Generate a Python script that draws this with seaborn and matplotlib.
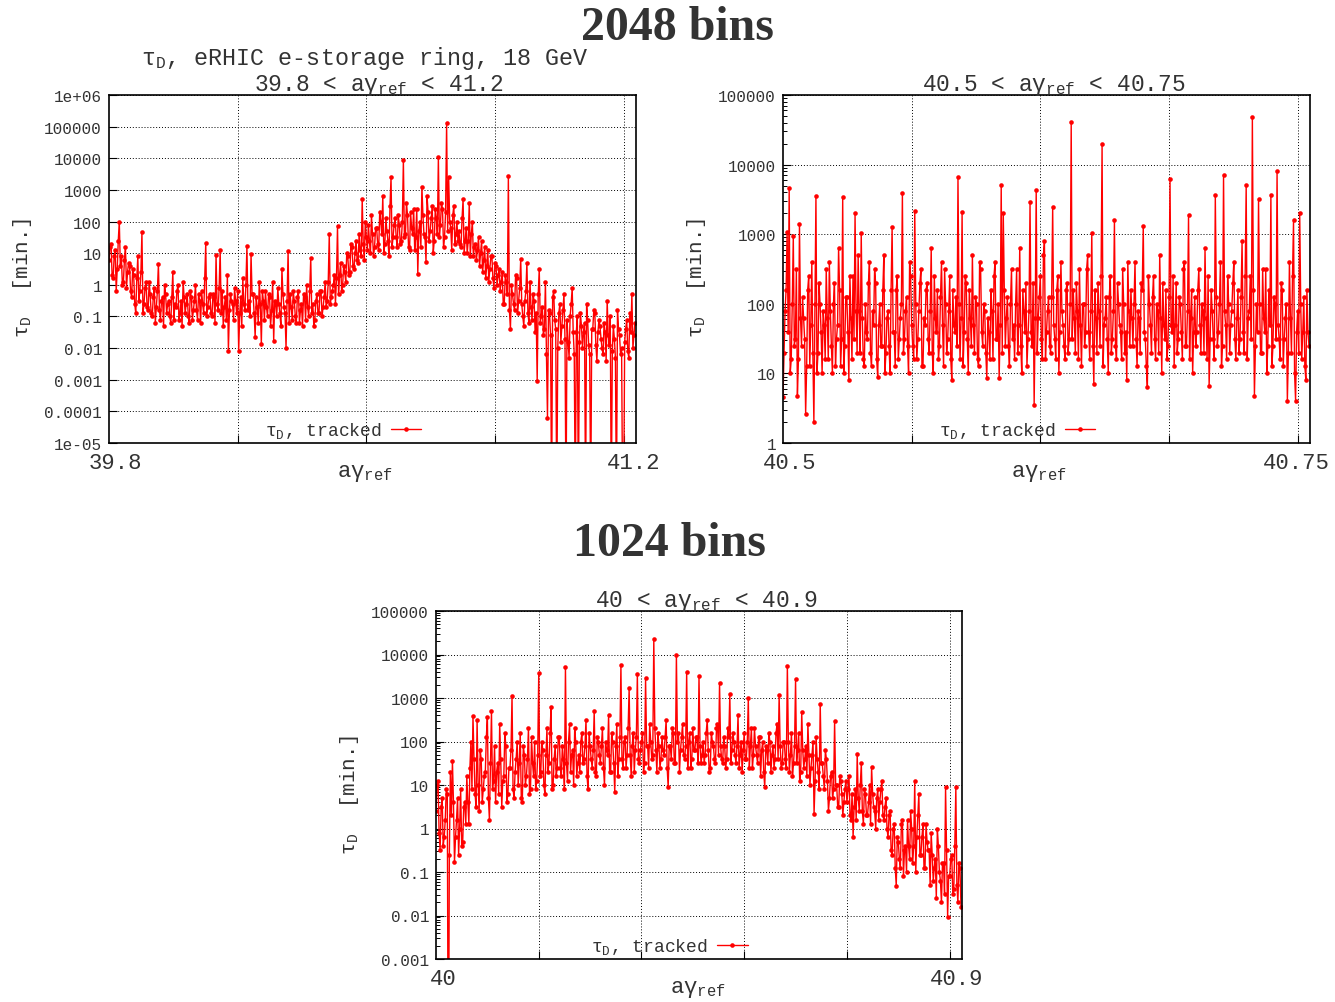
import numpy as np
import pandas as pd
import matplotlib
matplotlib.use("Agg")
import matplotlib.pyplot as plt
from matplotlib.ticker import FixedLocator, NullLocator, LogLocator, NullFormatter
import seaborn as sns

sns.set_style("white")
plt.rcParams["font.family"] = ["Liberation Mono", "DejaVu Sans"]
plt.rcParams["mathtext.fontset"] = "custom"
plt.rcParams["mathtext.rm"] = "Liberation Mono"
plt.rcParams["mathtext.it"] = "Liberation Mono"
plt.rcParams["mathtext.bf"] = "Liberation Mono:bold"

TEXT = "#333333"
RED = "#ff0000"

# log10(tau_D / min), 2048 bins over 39.8 < a*gamma < 41.2
# even: bins 0, 8, 16, ...   odd: bins 4, 12, 20, ...
wide_log_tau_even = [
    0.8, 1.3, 0.2, 1.1, 0.5, 2.0, 0.9, 0.1, 1.2, 0.4,
    0.6, -0.4, 0.3, -0.9, 0.9, -0.2, 1.67, -0.6, 0.1, -0.8,
    -0.3, -1.0, -0.1, -0.7, 0.66, -1.1, -0.4, 0.0, -0.9, -0.5,
    -1.2, 0.4, -0.6, -0.2, -1.1, -0.5, 0.1, -0.9, -0.3, -1.2,
    -0.4, -0.8, 0.0, -1.1, -0.5, -0.2, -0.9, 1.32, -0.7, -0.3,
    -1.0, -0.4, 0.95, -0.8, 1.1, -0.2, -0.7, -1.1, -2.1, -0.3,
    -0.6, -0.1, -0.9, -2.1, -0.4, 0.2, -0.8, 1.22, -0.5, 0.97,
    -0.3, -1.65, -0.7, 0.1, -1.87, -0.5, -0.2, -1.0, -0.4, -0.8,
    -1.77, -0.6, -0.1, -0.9, 0.5, -0.7, -2.0, 1.07, -0.3, -1.1,
    -0.5, -1.2, -0.2, -0.8, -1.3, -0.4, 0.0, -1.0, 0.85, -0.6,
    -1.1, -0.3, -0.9, -0.2, -0.7, 0.1, -0.5, 1.6, -0.4, 0.0,
    -0.6, 1.85, 0.3, -0.2, 0.6, 0.1, 0.9, 0.4, 1.2, 0.5,
    1.4, 0.7, 1.1, 2.7, 0.8, 1.5, 1.9, 1.0, 1.6, 1.2,
    1.8, 1.1, 2.0, 2.8, 1.3, 1.7, 0.9, 3.4, 1.5, 2.1,
    1.2, 1.9, 1.4, 3.94, 1.6, 2.2, 1.1, 1.8, 2.4, 1.5,
    0.35, 2.0, 3.1, 1.6, 0.72, 2.3, 1.7, 2.5, 1.4, 2.1,
    4.04, 1.9, 2.4, 1.5, 5.11, 3.4, 1.8, 2.2, 1.3, 2.0,
    1.7, 1.2, 2.7, 1.4, 1.0, 2.6, 1.6, 0.9, 1.3, 1.1,
    0.6, 1.4, 0.8, 0.2, 1.1, 0.5, 0.9, -0.1, 0.6, 0.3,
    -0.2, 0.4, -0.6, 0.1, 3.44, -1.4, -0.3, -0.8, 0.2, -0.5,
    0.82, -1.0, -0.5, 0.7, -1.2, -0.7, -0.3, -1.5, -3.04, 0.5,
    -1.0, -1.6, 0.1, -4.2, -0.9, -7.0, -0.2, -1.4, -2.0, -0.6,
    -1.3, -0.3, -7.0, -1.8, -1.0, -0.1, -2.2, -1.5, -7.0, -0.9,
    -2.0, -1.2, -0.6, -1.9, -7.0, -1.4, -0.9, -2.4, -1.1, -1.7,
    -2.2, -1.5, -0.5, -1.9, -7.0, -1.3, -2.3, -0.8, -1.6, -2.0,
    -7.0, -1.4, -2.1, -0.9, -0.3, -1.6,
]
wide_log_tau_odd = [
    1.2, 0.3, 0.9, -0.2, 1.4, 0.6, 0.0, 0.8, -0.1, 0.7,
    -0.2, 0.5, -0.6, 0.2, -0.5, 0.4, -0.9, -0.1, -0.7, 0.1,
    -0.9, -0.4, -1.2, -0.2, -0.8, -0.5, -1.3, -0.3, -0.6, -1.0,
    -0.4, -1.1, -0.7, 0.0, -0.9, -1.3, -0.4, -0.6, -1.0, -0.2,
    -1.1, -0.5, -0.8, -0.3, -1.2, -0.6, 0.2, -1.0, -0.4, -0.9,
    -0.3, -1.2, -0.6, -0.1, -0.9, -1.3, -0.4, 0.3, -0.8, -0.5,
    -1.1, -0.5, -0.2, -0.9, -1.3, -0.6, 0.0, -0.8, -1.0, -0.3,
    -0.9, -0.4, -1.2, -0.6, -0.2, -1.1, -0.7, -0.3, -1.3, 0.1,
    -0.5, -1.0, -0.6, -1.3, -0.3, -0.9, -0.5, -1.2, -0.7, -0.2,
    -1.0, -0.4, -1.2, -0.6, -0.3, -1.1, -0.7, -0.2, -0.9, -1.3,
    -0.5, -0.9, -0.2, -1.0, -0.4, -0.7, 0.1, -0.6, -0.2, 0.3,
    0.2, -0.3, 0.7, 0.0, 0.4, 1.0, 0.3, 1.3, 0.6, 1.0,
    0.8, 1.6, 0.9, 1.3, 2.0, 1.1, 1.4, 2.2, 0.9, 1.8,
    1.3, 2.3, 1.6, 1.0, 2.1, 1.4, 2.5, 1.2, 1.9, 1.5,
    2.2, 1.3, 2.0, 1.5, 2.6, 1.2, 2.3, 1.6, 1.1, 2.4,
    1.7, 1.2, 2.2, 1.5, 2.8, 1.4, 2.1, 1.0, 2.4, 1.6,
    1.5, 2.6, 1.2, 2.3, 1.7, 2.0, 1.1, 2.5, 1.6, 1.4,
    1.3, 2.1, 1.0, 1.8, 1.4, 0.9, 2.0, 1.2, 0.8, 1.5,
    1.0, 0.4, 1.2, 0.6, 0.1, 0.9, 0.2, 0.7, 0.0, 0.5,
    0.1, -0.6, 0.3, -0.3, -0.8, 0.0, -0.6, 0.3, -0.9, -0.1,
    -0.6, -1.3, -0.2, -0.9, 0.1, -1.1, -0.5, -0.9, -0.3, -1.2,
    -0.7, -1.4, -2.2, -0.8, -1.6, -0.4, -1.1, -7.0, -0.9, -1.8,
    -0.8, -1.7, -1.1, -2.3, -0.6, -1.5, -7.0, -1.0, -1.8, -1.3,
    -1.5, -7.0, -1.1, -2.2, -1.4, -0.8, -1.9, -1.5, -1.3, -2.0,
    -1.2, -2.4, -1.6, -1.0, -2.1, -1.7, -7.0, -1.4, -2.2, -7.0,
    -1.8, -1.1, -2.3, -1.5, -2.0, -1.2,
]

# log10(tau_D / min), 2048 bins over 40.5 < a*gamma < 40.75
narrow_log_tau_even = [
    0.66, 1.9, 3.03, 3.66, 1.2, 2.97, 1.5, 0.68, 3.15, 1.4,
    1.8, 0.42, 2.2, 1.1, 2.6, 0.30, 3.55, 1.3, 2.0, 1.0,
    1.7, 2.5, 1.2, 1.9, 1.0, 2.3, 1.5, 2.8, 1.1, 3.53,
    1.4, 2.1, 0.9, 1.8, 2.4, 3.3, 1.3, 1.9, 3.02, 1.2,
    2.0, 1.5, 2.6, 1.1, 1.7, 2.3, 0.95, 2.0, 1.4, 2.7,
    1.3, 1.9, 1.0, 3.1, 1.6, 2.2, 1.2, 1.8, 3.59, 1.5,
    2.1, 1.0, 2.4, 1.4, 3.33, 1.2, 1.9, 2.5, 1.1, 1.7,
    2.3, 1.3, 2.8, 1.0, 1.8, 2.2, 1.4, 2.6, 1.1, 2.0,
    1.5, 2.4, 0.9, 1.7, 2.1, 3.82, 1.2, 3.32, 1.6, 2.3,
    1.0, 1.8, 2.7, 1.3, 2.0, 1.1, 2.5, 1.4, 1.9, 0.93,
    1.6, 2.2, 1.2, 2.6, 1.5, 0.93, 3.71, 3.3, 1.4, 2.1,
    1.1, 2.5, 1.7, 2.0, 1.3, 2.8, 1.0, 1.9, 2.3, 1.5,
    3.46, 1.4, 0.55, 3.64, 1.8, 2.4, 1.2, 2.9, 1.6, 2.1,
    1.3, 3.39, 1.5, 2.2, 1.0, 2.6, 1.7, 1.2, 2.3, 1.5,
    4.61, 2.2, 1.3, 1.9, 2.5, 1.1, 2.0, 1.6, 2.7, 1.2,
    3.02, 0.85, 1.8, 2.3, 1.4, 4.30, 1.7, 2.1, 1.0, 2.4,
    1.5, 3.2, 1.2, 2.0, 1.6, 2.5, 1.3, 0.9, 1.9, 2.2,
    1.4, 2.6, 1.1, 1.8, 2.3, 3.12, 1.5, 0.8, 2.0, 1.3,
    2.4, 1.2, 1.9, 2.7, 1.0, 1.7, 2.2, 1.4, 3.79, 1.6,
    1.1, 2.3, 1.5, 2.0, 1.2, 2.6, 1.4, 3.28, 1.8, 1.0,
    2.1, 1.6, 2.5, 1.3, 1.9, 2.8, 1.2, 0.82, 2.2, 1.5,
    3.56, 1.4, 2.0, 1.1, 3.85, 1.7, 2.4, 1.3, 1.9, 2.6,
    1.2, 2.2, 1.5, 2.9, 1.3, 3.71, 1.8, 2.4, 4.68, 0.68,
    2.0, 3.5, 1.3, 2.5, 1.6, 1.0, 2.2, 3.56, 1.4, 2.0,
    3.91, 1.5, 2.3, 1.1, 1.8, 0.61, 2.6, 1.3, 3.2, 0.61,
    1.9, 3.3, 1.2, 2.1, 0.9, 1.6,
]
narrow_log_tau_odd = [
    1.3, 2.2, 1.6, 1.0, 2.0, 1.4, 2.5, 1.2, 1.8, 2.1,
    1.5, 1.1, 2.4, 1.7, 1.3, 2.0, 1.0, 2.3, 1.6, 1.9,
    1.2, 1.8, 2.6, 1.4, 2.0, 1.1, 1.7, 2.2, 1.5, 1.0,
    2.1, 1.6, 2.4, 1.2, 1.5, 1.9, 2.7, 1.3, 1.8, 1.1,
    1.6, 2.3, 1.3, 1.9, 2.5, 1.2, 1.7, 1.4, 2.2, 1.0,
    1.8, 1.4, 2.2, 1.6, 1.1, 2.4, 1.5, 2.0, 1.3, 1.9,
    1.4, 2.6, 1.7, 1.2, 2.0, 1.5, 2.3, 1.1, 1.8, 2.2,
    1.5, 1.9, 1.3, 2.4, 1.6, 1.2, 2.1, 1.7, 2.5, 1.3,
    1.9, 1.2, 2.2, 1.6, 1.4, 2.0, 1.8, 1.1, 2.4, 1.5,
    2.2, 1.4, 1.7, 2.1, 1.2, 2.6, 1.6, 2.0, 1.3, 1.8,
    1.2, 1.9, 2.4, 1.5, 2.0, 1.7, 1.3, 2.2, 1.8, 1.4,
    2.0, 1.5, 1.2, 2.5, 1.7, 1.4, 2.2, 1.6, 1.1, 1.9,
    1.6, 2.3, 1.8, 1.3, 2.1, 1.5, 2.7, 1.2, 1.9, 1.4,
    2.1, 1.7, 1.2, 2.4, 1.6, 1.9, 1.4, 2.2, 1.3, 2.0,
    1.5, 1.8, 2.3, 1.2, 1.7, 2.0, 1.4, 2.5, 1.6, 1.9,
    1.4, 2.2, 1.3, 1.9, 2.4, 1.1, 1.8, 1.5, 2.1, 1.3,
    1.9, 1.4, 2.3, 1.7, 1.2, 2.0, 1.6, 2.6, 1.4, 1.8,
    2.0, 1.5, 1.9, 1.3, 2.2, 1.6, 1.1, 2.4, 1.7, 2.1,
    1.5, 2.0, 1.3, 1.8, 2.3, 1.5, 1.2, 2.1, 1.7, 2.4,
    1.7, 1.3, 2.1, 1.6, 2.5, 1.4, 1.9, 1.2, 2.2, 1.6,
    1.4, 2.2, 1.7, 2.0, 1.3, 1.8, 2.4, 1.5, 1.9, 1.2,
    2.1, 1.6, 2.6, 1.4, 1.9, 1.2, 2.0, 1.7, 2.3, 1.5,
    1.8, 1.3, 2.1, 1.6, 2.4, 1.2, 1.9, 1.5, 2.2, 1.4,
    1.6, 2.0, 1.3, 1.8, 2.5, 1.4, 1.7, 1.1, 2.1, 1.5,
    1.7, 1.2, 2.2, 1.5, 2.0, 1.3, 1.8, 2.4, 1.0, 1.6,
    1.3, 2.0, 1.6, 1.1, 2.2, 1.4,
]

# log10(tau_D / min), 1024 bins over 40 < a*gamma < 40.9
# even: bins 0, 4, 8, ...   odd: bins 2, 6, 10, ...
mid_log_tau_even = [
    0.4, 1.1, -0.5, 0.7, -0.2, 0.9, -7.0, 1.3, 1.55, -0.77,
    0.2, -0.6, 0.9, -0.3, 0.6, 1.2, 0.1, 2.0, 2.59, 0.8,
    2.5, 0.4, 1.6, 0.9, 1.3, 2.57, 0.2, 2.7, 1.1, 0.6,
    1.5, 2.4, 0.5, 1.2, 1.9, 0.8, 1.4, 3.05, 0.7, 1.6,
    1.0, 2.2, 0.6, 1.7, 1.2, 2.3, 0.9, 1.5, 2.0, 1.1,
    3.57, 1.3, 1.8, 0.8, 2.3, 1.5, 2.8, 1.0, 1.9, 1.4,
    2.1, 1.2, 1.6, 3.72, 1.1, 2.4, 1.7, 1.0, 2.0, 1.5,
    1.3, 2.2, 1.6, 2.5, 0.9, 1.9, 1.4, 2.7, 1.2, 2.0,
    1.5, 2.3, 1.0, 1.8, 2.6, 1.3, 2.0, 0.84, 2.4, 1.6,
    3.76, 1.4, 2.1, 1.7, 3.23, 1.2, 2.2, 1.8, 3.55, 1.5,
    2.0, 1.3, 3.46, 1.9, 2.4, 1.6, 4.36, 1.8, 2.2, 1.4,
    2.1, 1.7, 2.5, 0.95, 1.9, 2.3, 1.5, 4.0, 2.2, 1.8,
    2.4, 1.6, 3.6, 2.0, 1.4, 2.3, 1.8, 2.1, 3.5, 1.5,
    2.0, 1.7, 2.5, 1.3, 2.2, 1.9, 1.5, 2.4, 3.35, 1.6,
    2.1, 1.4, 2.3, 3.1, 1.8, 2.0, 1.5, 2.6, 1.7, 1.3,
    2.2, 1.6, 3.0, 1.9, 1.4, 2.3, 1.7, 2.1, 1.2, 2.0,
    0.95, 1.8, 2.2, 1.3, 1.9, 1.6, 2.4, 3.07, 1.4, 2.0,
    1.6, 3.74, 1.3, 2.2, 1.5, 3.44, 1.8, 1.1, 2.67, 1.4,
    1.9, 2.4, 1.0, 1.7, 0.33, 2.1, 1.3, 2.86, 1.5, 0.9,
    1.6, 0.4, 1.2, 0.7, 2.47, 1.0, 0.5, 1.1, 0.3, 0.9,
    0.6, 1.2, 0.2, -0.2, 0.9, 1.71, 0.4, 1.5, 0.1, 0.8,
    0.3, 1.0, 1.41, 0.5, 0.0, 0.9, 0.6, 1.1, 0.2, 0.7,
    -0.2, 0.4, -0.6, 0.1, -1.32, -0.3, -0.9, 0.2, -0.5, -1.0,
    -0.4, 0.4, -0.8, 1.1, -0.2, 0.8, -0.6, 0.1, -0.9, -0.3,
    -0.5, -0.1, -1.2, -0.7, 0.0, -1.0, -1.7, -0.8, 0.95, -2.03,
    -1.1, -0.6, -1.4, 0.95, -1.7, -0.9,
]
mid_log_tau_odd = [
    1.0, -0.1, 0.5, -0.4, 0.2, 0.8, -0.6, 0.3, 0.6, -0.2,
    0.7, 0.0, -0.4, 0.5, 0.1, 0.6, 1.4, 0.9, 1.6, 0.5,
    1.0, 1.8, 0.6, 1.2, 2.1, 0.7, 1.5, 0.9, 1.9, 1.3,
    0.8, 1.6, 1.1, 2.2, 0.6, 1.4, 1.8, 0.9, 1.3, 2.0,
    1.5, 0.7, 1.9, 1.0, 1.6, 0.8, 2.1, 1.2, 0.9, 1.7,
    1.2, 2.0, 1.0, 1.7, 1.3, 2.2, 0.9, 1.6, 1.2, 2.1,
    1.4, 1.9, 0.9, 1.5, 2.0, 1.3, 1.8, 2.3, 1.2, 1.7,
    2.0, 1.5, 1.9, 1.2, 2.2, 1.6, 1.8, 1.3, 2.1, 1.7,
    1.9, 1.4, 2.0, 1.7, 1.3, 2.2, 1.5, 1.9, 1.2, 2.1,
    1.6, 2.0, 1.4, 2.3, 1.7, 1.9, 1.3, 2.1, 1.6, 1.8,
    2.2, 1.5, 1.9, 1.4, 2.0, 1.7, 2.3, 1.3, 1.9, 1.6,
    1.8, 2.1, 1.4, 1.9, 1.6, 2.2, 1.5, 2.0, 1.3, 2.1,
    1.7, 1.9, 1.4, 2.2, 1.6, 1.8, 2.1, 1.5, 1.9, 1.7,
    1.5, 2.2, 1.8, 1.4, 2.0, 1.6, 2.3, 1.7, 1.9, 1.5,
    1.9, 1.6, 2.1, 1.5, 2.2, 1.7, 1.9, 1.4, 2.0, 1.8,
    1.6, 2.0, 1.4, 2.3, 1.7, 1.9, 1.5, 2.1, 1.8, 1.3,
    1.9, 1.5, 2.0, 1.7, 1.4, 2.2, 1.6, 1.9, 1.5, 2.0,
    1.4, 2.0, 1.7, 1.2, 1.9, 1.5, 2.2, 1.3, 1.8, 1.6,
    1.2, 1.7, 1.4, 2.0, 1.1, 1.6, 0.9, 1.5, 1.2, 1.8,
    1.1, 0.7, 1.3, 0.9, 1.0, 0.5, 1.2, 0.8, 0.6, 1.1,
    0.9, 0.3, 0.8, 0.5, 0.2, 0.7, 1.0, 0.4, 0.9, 0.3,
    0.6, 0.1, 0.8, 0.4, 0.7, 0.2, 0.9, 0.3, 0.5, 0.0,
    0.3, -0.5, 0.0, -0.9, -0.2, -0.7, 0.1, -1.1, -0.4, 0.2,
    -0.7, 0.0, -0.4, -1.0, 0.3, -0.6, -0.2, -0.9, 0.1, -0.5,
    -1.3, -0.6, -0.9, -1.6, -0.4, -1.2, -0.8, -1.5, -0.5, -1.1,
    -0.7, -1.5, -0.4, -1.3, -0.8, -1.8,
]

wide_ticks = ["1e-05", "0.0001", "0.001", "0.01", "0.1", "1", "10", "100",
              "1000", "10000", "100000", "1e+06"]
narrow_ticks = ["1", "10", "100", "1000", "10000", "100000"]
mid_ticks = ["0.001", "0.01", "0.1", "1", "10", "100", "1000", "10000", "100000"]

AGAMMA = r"a$\mathrm{\gamma}_{\mathrm{ref}}$"
TAU = r"$\mathrm{\tau}_{\mathrm{D}}$"

fig = plt.figure(figsize=(13.35, 10.03), dpi=100)
W, H = 1335.0, 1003.0


def px_rect(left, top, right, bottom):
    return [left / W, 1 - bottom / H, (right - left) / W, (bottom - top) / H]


def series(even, odd, step):
    n_even, n_odd = len(even), len(odd)
    bins = np.concatenate([np.arange(n_even) * step,
                           np.arange(n_odd) * step + step // 2])
    vals = np.concatenate([np.asarray(even, float), np.asarray(odd, float)])
    df = pd.DataFrame({"bin": bins, "tau": 10.0 ** vals})
    return df.sort_values("bin").reset_index(drop=True)


def panel(rect, nbins, step, even, odd, ticklabels, grid_every, end_labels,
          end_pos, minor):
    ax = fig.add_axes(rect)
    df = series(even, odd, step)
    sns.lineplot(data=df, x="bin", y="tau", ax=ax, color=RED, linewidth=1.0,
                 marker="o", markersize=3.3, markeredgewidth=0,
                 estimator=None, sort=False, label=TAU + ", tracked")
    ax.set_yscale("log")
    yt = [float(t) for t in ticklabels]
    ax.set_ylim(yt[0], yt[-1])
    ax.set_xlim(0, nbins)
    ax.yaxis.set_major_locator(FixedLocator(yt))
    ax.set_yticklabels(ticklabels)
    if minor:
        ax.yaxis.set_minor_locator(LogLocator(base=10, subs=np.arange(2, 10)))
        ax.yaxis.set_minor_formatter(NullFormatter())
    else:
        ax.yaxis.set_minor_locator(NullLocator())
    ax.xaxis.set_major_locator(FixedLocator(np.arange(grid_every, nbins, grid_every)))
    ax.set_xticklabels([])
    ax.set_xlabel("")
    ax.set_ylabel("")
    ax.tick_params(axis="both", which="major", direction="in", length=6,
                   width=0.8, color="black", labelcolor=TEXT, labelsize=11.5,
                   pad=5, left=True, bottom=True)
    ax.tick_params(axis="y", which="minor", direction="in", length=3,
                   width=0.7, color="black", left=True)
    ax.grid(True, which="major", color="black", linestyle=(0, (1, 2)),
            linewidth=0.7)
    for s in ax.spines.values():
        s.set_color("black")
        s.set_linewidth(1.2)
    for lab, pos in zip(end_labels, end_pos):
        ax.text(pos, -0.025, lab, transform=ax.transAxes, ha="center",
                va="top", fontsize=16, color=TEXT)
    ax.legend(loc="center", bbox_to_anchor=(0.444, 0.037), frameon=False,
              markerfirst=False, handlelength=1.7, handletextpad=0.5,
              fontsize=13, labelcolor=TEXT, borderaxespad=0)
    return ax


ax1 = panel(px_rect(109, 96, 636, 444), 2048, 8, wide_log_tau_even,
            wide_log_tau_odd, wide_ticks, 500, ["39.8", "41.2"],
            [0.013, 0.996], False)
ax2 = panel(px_rect(783, 96, 1310, 444), 2048, 8, narrow_log_tau_even,
            narrow_log_tau_odd, narrow_ticks, 500, ["40.5", "40.75"],
            [0.013, 0.974], True)
ax3 = panel(px_rect(436, 612, 962, 960), 1024, 4, mid_log_tau_even,
            mid_log_tau_odd, mid_ticks, 200, ["40", "40.9"],
            [0.013, 0.990], True)

# x and y axis labels
for cx, cy in [(365, 477), (1039, 477), (698, 993)]:
    fig.text(cx / W, 1 - cy / H, AGAMMA, ha="center", va="baseline",
             fontsize=16, color=TEXT)
for cx, cy in [(22, 278), (697, 278), (350, 795)]:
    fig.text(cx / W, 1 - cy / H, TAU + "  [min.]", ha="center", va="center",
             rotation=90, fontsize=15, color=TEXT)

# panel titles
fig.text(365 / W, 1 - 64.5 / H, TAU + ", eRHIC e-storage ring, 18 GeV",
         ha="center", va="baseline", fontsize=16.8, color=TEXT)
fig.text(379 / W, 1 - 90.5 / H, "39.8 < " + AGAMMA + " < 41.2",
         ha="center", va="baseline", fontsize=16.5, color=TEXT)
fig.text(1054 / W, 1 - 90.5 / H, "40.5 < " + AGAMMA + " < 40.75",
         ha="center", va="baseline", fontsize=16.5, color=TEXT)
fig.text(706 / W, 1 - 606.5 / H, "40 < " + AGAMMA + " < 40.9",
         ha="center", va="baseline", fontsize=16.5, color=TEXT)

# headings
fig.text(677 / W, 1 - 39.5 / H, "2048 bins", ha="center", va="baseline",
         fontsize=34.5, fontweight="bold", family="Liberation Serif", color=TEXT)
fig.text(669 / W, 1 - 556.5 / H, "1024 bins", ha="center", va="baseline",
         fontsize=34.5, fontweight="bold", family="Liberation Serif", color=TEXT)

fig.savefig("out.png", dpi=100)
